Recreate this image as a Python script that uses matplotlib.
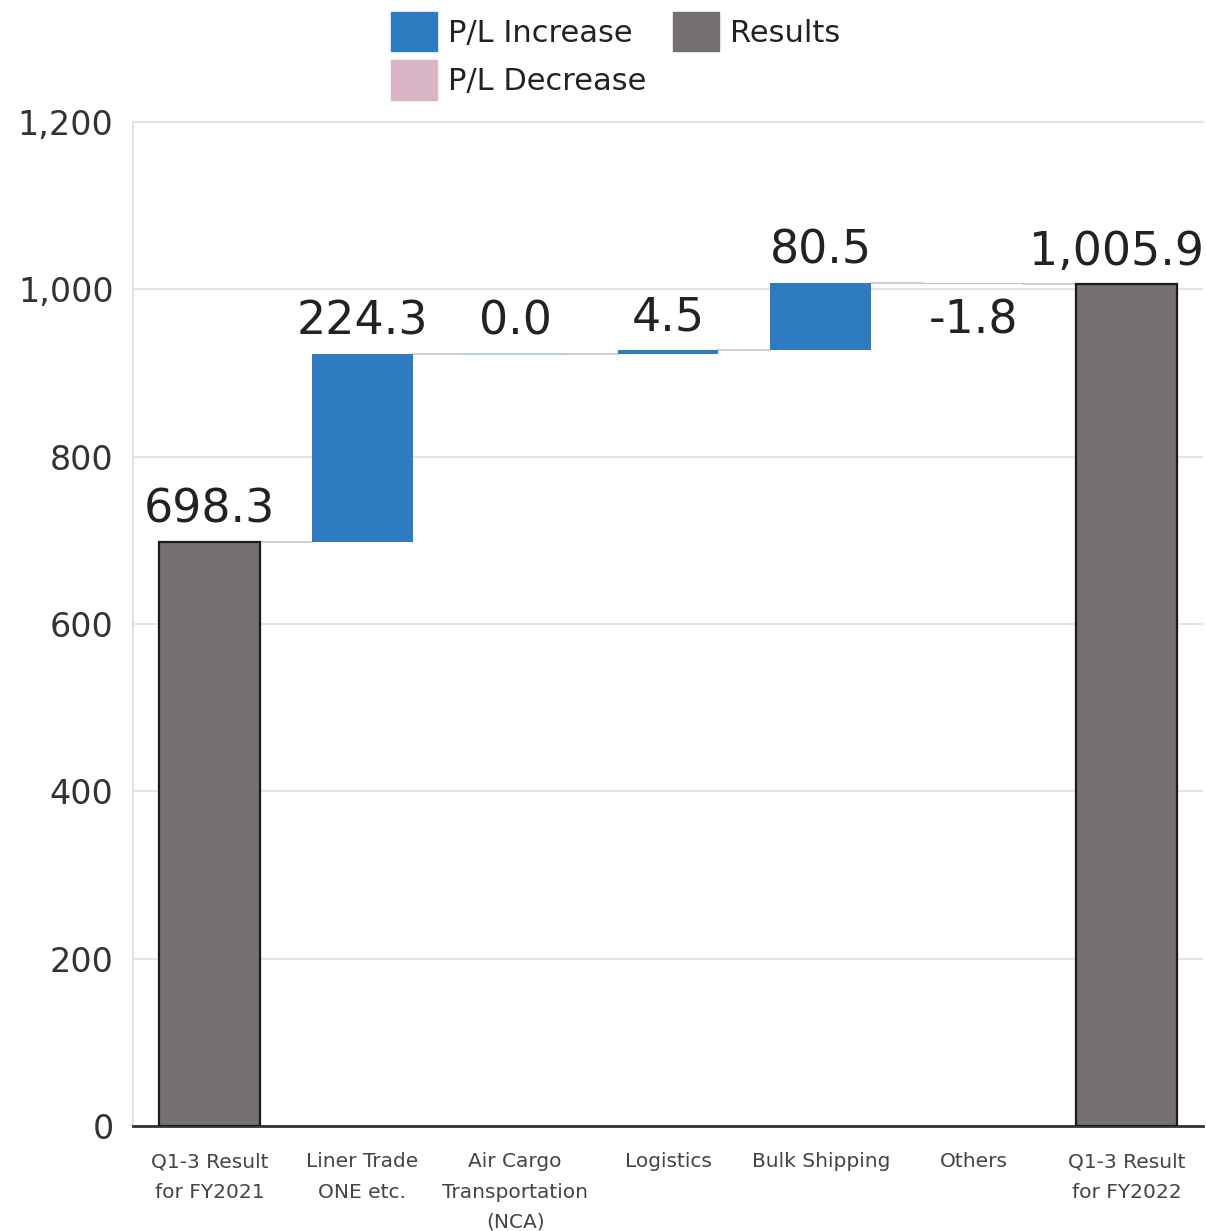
import numpy as np
import matplotlib.pyplot as plt
from matplotlib.patches import Patch

# data
categories = ["Q1-3 Result\nfor FY2021", "Liner Trade\nONE etc.", "Air Cargo\nTransportation\n(NCA)",
              "Logistics", "Bulk Shipping", "Others", "Q1-3 Result\nfor FY2022"]
changes = [698.3, 224.3, 0.0, 4.5, 80.5, -1.8, 1005.9]
kinds = ["total", "delta", "delta", "delta", "delta", "delta", "total"]
labels = ["698.3", "224.3", "0.0", "4.5", "80.5", "-1.8", "1,005.9"]
y_ticks = [0, 200, 400, 600, 800, 1000, 1200]

# colors
c_up = "#2f7bc1"
c_down = "#d9b4c6"
c_total = "#767170"

fig = plt.figure(figsize=(12.06, 12.31), dpi=100)
ax = fig.add_axes([133 / 1206, 1 - 1126 / 1231, 1070 / 1206, 1004 / 1231])

x = np.arange(len(categories))
w = 0.66
bottoms, tops = [], []
level = 0.0
for k, v in zip(kinds, changes):
    if k == "total":
        bottoms.append(0.0)
        tops.append(v)
        level = v
    else:
        bottoms.append(level)
        level = level + v
        tops.append(level)

for i, (k, v) in enumerate(zip(kinds, changes)):
    b, t = bottoms[i], tops[i]
    if k == "total":
        ax.bar(x[i], t - b, bottom=b, width=w, color=c_total, edgecolor="#1a1a1a", linewidth=1.6, zorder=3)
    else:
        color = c_up if v >= 0 else c_down
        h = t - b
        if h == 0:
            # zero change shown as a hairline
            ax.plot([x[i] - w / 2, x[i] + w / 2], [b, b], color="#b9cde0", lw=1.5, zorder=3)
        else:
            ax.bar(x[i], h, bottom=b, width=w, color=color, linewidth=0, zorder=3)

    # value labels (last one nudged left so it stays inside the figure)
    dx = -7 if i == len(changes) - 1 else 0
    if v < 0:
        ax.annotate(labels[i], (x[i], min(b, t)), xytext=(dx, -10), textcoords="offset points",
                    ha="center", va="top", fontsize=33, color="#222222", zorder=5)
    else:
        ax.annotate(labels[i], (x[i], max(b, t)), xytext=(dx, 14), textcoords="offset points",
                    ha="center", va="baseline", fontsize=33, color="#222222", zorder=5)

# connectors
for i in range(len(x) - 1):
    lvl = tops[i]
    ax.plot([x[i] + w / 2, x[i + 1] - w / 2], [lvl, lvl], color="#d0d0d0", lw=1.5, zorder=2)

ax.set_xlim(-0.5, len(x) - 0.5)
ax.set_ylim(0, 1200)
ax.set_yticks(y_ticks)
ax.set_yticklabels([f"{t:,}" for t in y_ticks], fontsize=24, color="#333333")
ax.set_xticks(x)
ax.set_xticklabels(categories, fontsize=14.5, color="#444444", linespacing=1.75, va="top")
ax.tick_params(axis="both", length=0)
ax.tick_params(axis="y", pad=14)
ax.tick_params(axis="x", pad=19)
ax.grid(axis="y", color="#e2e2e2", lw=1.3, zorder=0)
ax.set_axisbelow(True)

for s in ["top", "left"]:
    ax.spines[s].set_color("#e2e2e2")
    ax.spines[s].set_linewidth(1.5)
ax.spines["right"].set_visible(False)
ax.spines["bottom"].set_color("#333333")
ax.spines["bottom"].set_linewidth(2)

handles = [Patch(color=c_up, label="P/L Increase"),
           Patch(color=c_down, label="P/L Decrease"),
           Patch(color=c_total, label="Results")]
leg = fig.legend(handles=handles, ncol=2, loc="upper left", bbox_to_anchor=(391 / 1206, 1 - 12 / 1231),
                 frameon=False, fontsize=22, handlelength=1.5, handleheight=1.6, handletextpad=0.35,
                 columnspacing=0.9, labelspacing=0.3, borderpad=0, borderaxespad=0)
for txt in leg.get_texts():
    txt.set_color("#222222")

fig.savefig("out.png", dpi=100)
